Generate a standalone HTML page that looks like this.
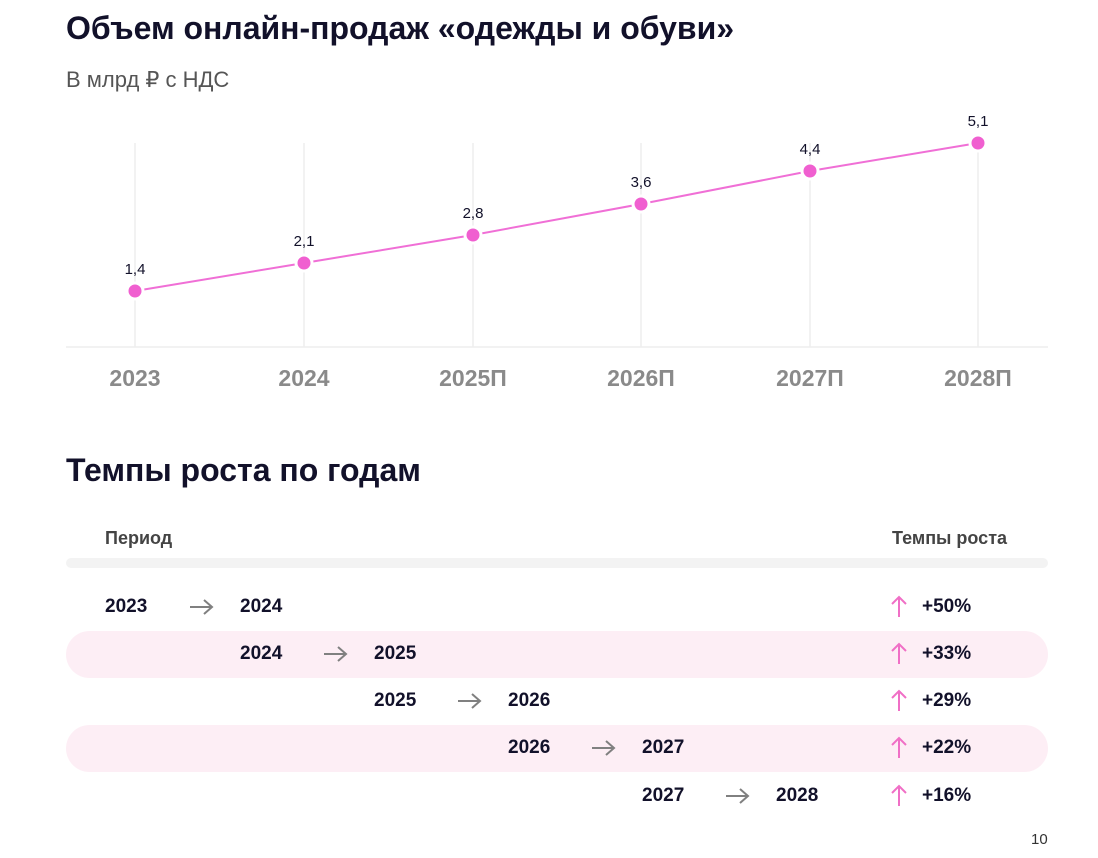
<!DOCTYPE html><html><head><meta charset="utf-8"><style>
body{margin:0;width:1098px;height:858px;background:#fff;font-family:"Liberation Sans",sans-serif;position:relative;overflow:hidden;color:#12112a}
.a{position:absolute;white-space:nowrap}
.h{font-size:32px;font-weight:bold;letter-spacing:0}
.y{font-size:19px;font-weight:bold;line-height:20px}
.band{position:absolute;left:66px;width:982px;height:47px;border-radius:24px;background:#fdeef5}
</style></head><body>
<div class="a h" style="left:66px;top:10px">Объем онлайн-продаж «одежды и обуви»</div>
<div class="a" style="left:66px;top:67px;font-size:22px;color:#555">В млрд ₽ с НДС</div>
<svg class="a" style="left:0;top:0" width="1098" height="420">
<g stroke="#eeeeee" stroke-width="1.5">
<line x1="135" y1="143" x2="135" y2="347"/><line x1="304" y1="143" x2="304" y2="347"/><line x1="473" y1="143" x2="473" y2="347"/><line x1="641" y1="143" x2="641" y2="347"/><line x1="810" y1="143" x2="810" y2="347"/><line x1="978" y1="143" x2="978" y2="347"/>
<line x1="66" y1="347" x2="1048" y2="347"/></g>
<polyline fill="none" stroke="#f06fd6" stroke-width="2" points="135,291 304,263 473,235 641,204 810,171 978,143"/>
<g fill="#f05fd0" stroke="#fff" stroke-width="3">
<circle cx="135" cy="291" r="8"/><circle cx="304" cy="263" r="8"/><circle cx="473" cy="235" r="8"/><circle cx="641" cy="204" r="8"/><circle cx="810" cy="171" r="8"/><circle cx="978" cy="143" r="8"/></g>
<g font-size="15" text-anchor="middle" fill="#12112a" font-family="Liberation Sans">
<text x="135" y="274">1,4</text><text x="304" y="246">2,1</text><text x="473" y="218">2,8</text><text x="641" y="187">3,6</text><text x="810" y="154">4,4</text><text x="978" y="126">5,1</text></g>
<g font-size="23" font-weight="bold" text-anchor="middle" fill="#8a8a8a" font-family="Liberation Sans">
<text x="135" y="386">2023</text><text x="304" y="386">2024</text><text x="473" y="386">2025П</text><text x="641" y="386">2026П</text><text x="810" y="386">2027П</text><text x="978" y="386">2028П</text></g>
</svg>
<div class="a h" style="left:66px;top:452px">Темпы роста по годам</div>
<div class="a" style="left:105px;top:528px;font-size:18px;font-weight:bold;color:#444">Период</div>
<div class="a" style="left:892px;top:528px;font-size:18px;font-weight:bold;color:#444">Темпы роста</div>
<div class="a" style="left:66px;top:558px;width:982px;height:10px;border-radius:5px;background:#f3f3f3"></div>
<div class="band" style="top:631px"></div>
<div class="band" style="top:725px"></div>

<div class="a y" style="left:105px;top:597px">2023</div><div class="a y" style="left:240px;top:597px">2024</div>
<div class="a y" style="left:240px;top:644px">2024</div><div class="a y" style="left:374px;top:644px">2025</div>
<div class="a y" style="left:374px;top:691px">2025</div><div class="a y" style="left:508px;top:691px">2026</div>
<div class="a y" style="left:508px;top:738px">2026</div><div class="a y" style="left:642px;top:738px">2027</div>
<div class="a y" style="left:642px;top:786px">2027</div><div class="a y" style="left:776px;top:786px">2028</div>

<svg class="a" style="left:0;top:0" width="1098" height="858">
<g stroke="#808080" stroke-width="2" fill="none">
<path d="M190 607 H212 M204 600 L212 607 L204 614"/>
<path d="M324 654 H346 M338 647 L346 654 L338 661"/>
<path d="M458 701 H480 M472 694 L480 701 L472 708"/>
<path d="M592 748 H614 M606 741 L614 748 L606 755"/>
<path d="M726 796 H748 M740 789 L748 796 L740 803"/>
</g>
<g stroke="#f06fc6" stroke-width="2" fill="none">
<path d="M899 617 V597 M892 604 L899 597 L906 604"/>
<path d="M899 664 V644 M892 651 L899 644 L906 651"/>
<path d="M899 711 V691 M892 698 L899 691 L906 698"/>
<path d="M899 758 V738 M892 745 L899 738 L906 745"/>
<path d="M899 806 V786 M892 793 L899 786 L906 793"/>
</g></svg>
<div class="a y" style="left:922px;top:597px">+50%</div>
<div class="a y" style="left:922px;top:644px">+33%</div>
<div class="a y" style="left:922px;top:691px">+29%</div>
<div class="a y" style="left:922px;top:738px">+22%</div>
<div class="a y" style="left:922px;top:786px">+16%</div>
<div class="a" style="left:1031px;top:831px;font-size:15px;color:#333">10</div>
</body></html>
